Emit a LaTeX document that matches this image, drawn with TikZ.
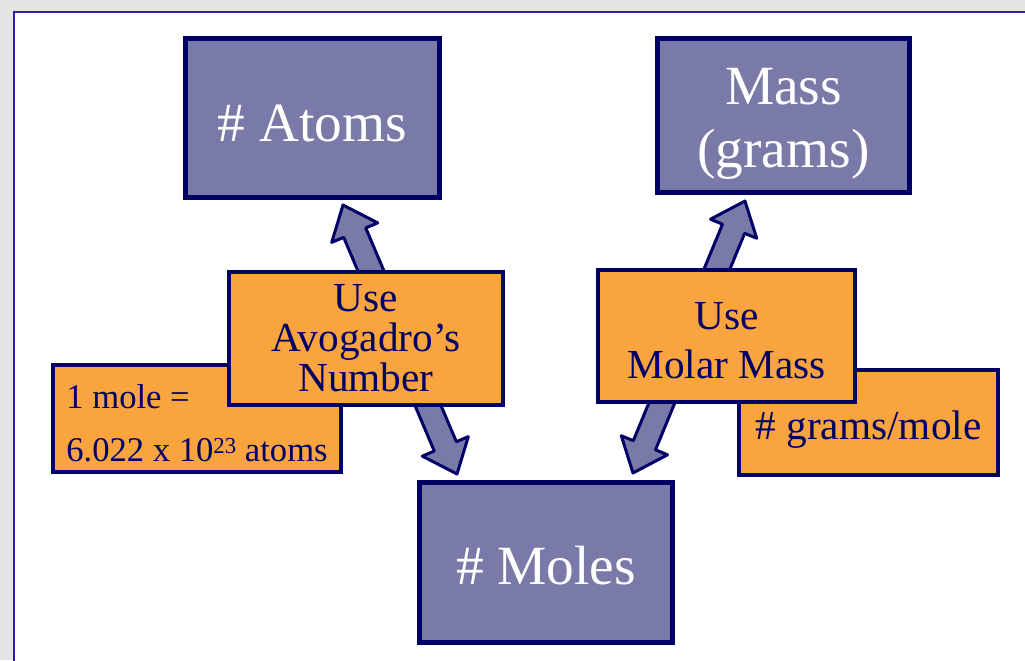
\documentclass[tikz,border=0pt]{standalone}
\usepackage{fontspec}
\setmainfont{Liberation Serif}
\usetikzlibrary{calc}
\definecolor{boxNavy}{HTML}{000066}
\definecolor{boxSlate}{HTML}{7A7AA8}
\definecolor{boxAmber}{HTML}{F9A43E}
\definecolor{frameBlue}{HTML}{2B1F9F}
\definecolor{pageGrey}{HTML}{E4E4E4}

\begin{document}
\begin{tikzpicture}[x=0.02cm, y=-0.02cm,
  qty/.style={draw=boxNavy, fill=boxSlate, line width=2.6pt},
  rule/.style={draw=boxNavy, fill=boxAmber, line width=2.4pt},
  qtytext/.style={text=white, align=center, font=\fontsize{31.5}{35.7}\selectfont},
  ruletext/.style={text=boxNavy, align=center, font=\fontsize{23.5}{22.7}\selectfont},
  facttext/.style={ruletext, align=left, font=\fontsize{19.7}{30}\selectfont},
  link/.style={draw=boxNavy, fill=boxSlate, line width=1.7pt, line join=round}]
% page
\clip (0,0) rectangle (1025,660);
\fill[pageGrey] (0,0) rectangle (1025,660);
\filldraw[fill=white, draw=frameBlue, line width=1.2pt] (14,12) rectangle (1060,700);
% quantities
\node[qty, minimum width=5.09cm, minimum height=3.19cm,
  label={[qtytext, yshift=-0.11cm]center:{\# Atoms}}] (atoms) at (312.5,118) {};
\node[qty, minimum width=5.05cm, minimum height=3.09cm,
  label={[qtytext, yshift=-0.17cm]center:{Mass\\(grams)}}] (mass) at (783.5,115.5) {};
\node[qty, minimum width=5.07cm, minimum height=3.21cm,
  label={[qtytext, yshift=-0.06cm]center:{\# Moles}}] (moles) at (546,562.5) {};
% conversion arrows
\coordinate (avoTop) at ([xshift=0.61cm, yshift=-0.1cm]atoms.south);
\coordinate (avoBot) at ([xshift=-1.78cm, yshift=0.12cm]moles.north);
\coordinate (molTop) at ([xshift=-0.77cm, yshift=-0.12cm]mass.south);
\coordinate (molBot) at ([xshift=1.74cm, yshift=0.14cm]moles.north);
\foreach \p/\q in {avoTop/avoBot, molTop/molBot}
  \draw[link] (\p) -- ($(\p)!0.6cm!(\q)!0.5cm!90:(\q)$) -- ($(\p)!0.6cm!(\q)!0.24cm!90:(\q)$)
    -- ($(\q)!0.6cm!(\p)!0.24cm!-90:(\p)$) -- ($(\q)!0.6cm!(\p)!0.5cm!-90:(\p)$) -- (\q)
    -- ($(\q)!0.6cm!(\p)!0.5cm!90:(\p)$) -- ($(\q)!0.6cm!(\p)!0.24cm!90:(\p)$)
    -- ($(\p)!0.6cm!(\q)!0.24cm!-90:(\q)$) -- ($(\p)!0.6cm!(\q)!0.5cm!-90:(\q)$) -- cycle;
% facts
\node[rule, minimum width=5.75cm, minimum height=2.13cm,
  label={[facttext, yshift=-0.1cm]center:{1 mole =\\6.022 x 10\raisebox{4.5pt}{\fontsize{13}{13}\selectfont 23} atoms}}]
  (perMole) at (197,418.5) {};
\node[rule, minimum width=5.17cm, minimum height=2.09cm,
  label={[ruletext, yshift=-0.14cm]center:{\# grams/mole}}] (gramsMole) at (868.5,422.5) {};
% rules
\node[rule, minimum width=5.47cm, minimum height=2.65cm,
  label={[ruletext]center:{Use\\Avogadro’s\\Number}}] (avogadro) at (366,338.5) {};
\node[rule, minimum width=5.13cm, minimum height=2.63cm,
  label={[ruletext, yshift=-0.1cm]center:{Use\\[5pt]Molar Mass}}] (molar) at (726.5,336) {};
\end{tikzpicture}
\end{document}
